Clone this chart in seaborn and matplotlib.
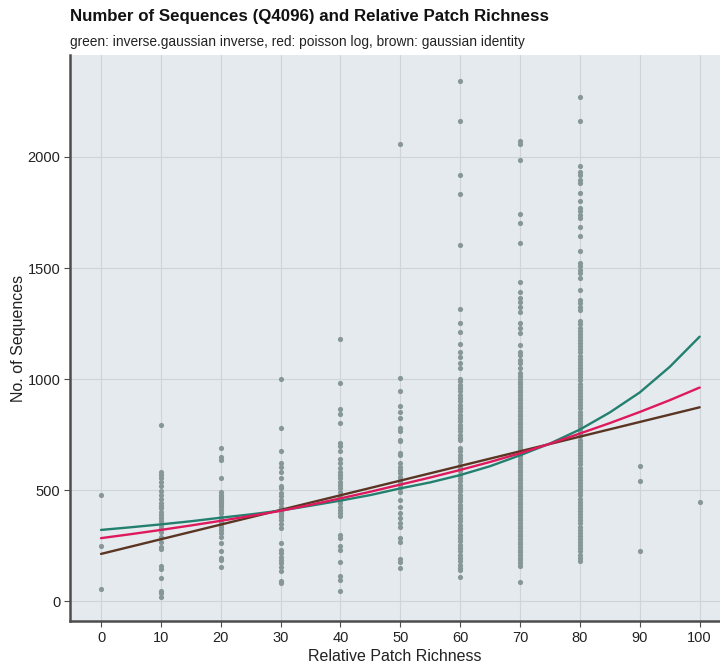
import matplotlib
matplotlib.use("Agg")
import matplotlib.pyplot as plt
import seaborn as sns
import pandas as pd

# ---------------- data ----------------
col_0 = [478, 250, 55]
col_10 = [792, 580, 568, 553, 538, 520, 496, 478, 460, 441, 430, 418, 403, 390, 373,
          360, 343, 330, 313, 291, 268, 246, 234, 160, 145, 106, 48, 36, 21]
col_20 = [688, 651, 636, 556, 491, 478, 471, 463, 456, 448, 441, 433, 426, 411, 396,
          381, 370, 358, 346, 336, 321, 306, 291, 261, 228, 194, 186, 156]
col_30 = [999, 779, 677, 621, 603, 583, 556, 519, 509, 486, 475, 456, 441, 426, 418,
          411, 403, 396, 388, 381, 366, 347, 329, 264, 231, 216, 201, 186, 171, 156,
          138, 93, 84]
col_40 = [1180, 981, 864, 843, 804, 714, 699, 678, 639, 621, 599, 583, 568, 553, 538,
          524, 509, 491, 471, 456, 441, 426, 411, 396, 384, 299, 284, 249, 231, 178,
          114, 96, 46]
col_50 = [2057, 1004, 947, 881, 851, 824, 782, 767, 726, 722, 669, 659, 621, 606, 591,
          576, 561, 546, 535, 524, 509, 493, 456, 426, 399, 374, 354, 336, 284, 268,
          189, 178, 149]
col_60 = [2344, 2160, 1920, 1835, 1605, 1314, 1251, 1214, 1158, 1124, 1101, 1074, 1052,
          1000, 990, 975, 960, 945, 930, 915, 900, 885, 870, 855, 840, 825, 810, 795,
          780, 765, 750, 735, 725, 690, 675, 660, 645, 630, 615, 600, 585, 570, 555,
          540, 525, 510, 495, 480, 465, 450, 435, 420, 405, 390, 375, 360, 345, 330,
          315, 300, 285, 270, 255, 240, 225, 210, 195, 180, 165, 150, 141, 111]
col_70 = [2072, 2060, 1986, 1743, 1702, 1612, 1439, 1394, 1364, 1349, 1326, 1304, 1251,
          1229, 1206, 1154, 1124, 1109, 1086, 1071, 1049, 1027,
          1012, 1000, 988, 976, 964, 952, 940, 928, 916, 904, 892, 880, 868, 856, 844,
          832, 820, 808, 796, 784, 772, 760, 748, 736, 724, 712, 700, 688, 676, 664,
          652, 640, 628, 616, 604, 592, 580, 568, 556, 544, 532, 520, 508, 496, 484,
          472, 460, 448, 436, 424, 412, 400, 388, 376, 364, 352, 340, 328, 316, 304,
          292, 280, 268, 256, 244, 232, 220, 208, 196, 184, 172, 160, 86]
col_80 = [2269, 2162, 1960, 1934, 1919, 1897, 1882, 1837, 1803, 1770, 1755, 1740, 1726,
          1686, 1645, 1578, 1523, 1508, 1493, 1478, 1455, 1401, 1356, 1341, 1326, 1311,
          1260, 1246, 1232, 1218, 1204, 1190, 1176, 1162, 1148, 1134, 1120, 1106, 1092,
          1078, 1064, 1050, 1036, 1022, 1008, 994, 980, 966, 952, 938, 924, 910, 896,
          882, 868, 854, 840, 826, 812, 798, 784, 770, 756, 742, 728, 714, 700, 686,
          672, 658, 644, 630, 616, 602, 588, 574, 560, 546, 532, 518, 504, 490, 476,
          462, 448, 434, 420, 406, 392, 378, 364, 350, 336, 322, 308, 294, 280, 266,
          252, 238, 224, 210, 196, 182]
col_90 = [609, 541, 228]
col_100 = [446]

richness_levels = [0, 10, 20, 30, 40, 50, 60, 70, 80, 90, 100]
columns = [col_0, col_10, col_20, col_30, col_40, col_50, col_60, col_70, col_80,
           col_90, col_100]

# fitted curves every 5 units of richness
fit_x = [0, 5, 10, 15, 20, 25, 30, 35, 40, 45, 50, 55, 60, 65, 70, 75, 80, 85, 90, 95, 100]
fit_inverse_gaussian = [321, 333, 346, 360, 376, 391, 408, 430, 453, 478, 508, 535, 568,
                        608, 657, 710, 773, 850, 940, 1055, 1191]
fit_poisson = [284, 302, 321, 341, 362, 384, 407, 434, 463, 493, 525, 557, 591, 627, 666,
               709, 755, 802, 852, 905, 962]
fit_gaussian = [213, 246, 279, 312, 345, 378, 411, 444, 477, 510, 543, 576, 609, 642, 675,
                708, 741, 774, 807, 840, 873]

x_ticks = [0, 10, 20, 30, 40, 50, 60, 70, 80, 90, 100]
y_ticks = [0, 500, 1000, 1500, 2000]

# ---------------- build tables ----------------
pts = pd.DataFrame({
    "richness": [lvl for lvl, vals in zip(richness_levels, columns) for _ in vals],
    "sequences": [v for vals in columns for v in vals],
})
fits = pd.DataFrame({
    "richness": fit_x * 3,
    "sequences": fit_gaussian + fit_inverse_gaussian + fit_poisson,
    "model": ["gaussian"] * len(fit_x) + ["invgauss"] * len(fit_x) + ["poisson"] * len(fit_x),
})

# ---------------- plot ----------------
sns.set_style("white")
plt.rcParams["font.family"] = ["Liberation Sans", "DejaVu Sans"]

fig = plt.figure(figsize=(7.2, 6.66), dpi=100)
ax = fig.add_axes([70 / 720, 45 / 666, 650 / 720, 566 / 666])
ax.set_facecolor("#e5eaef")

sns.scatterplot(data=pts, x="richness", y="sequences", ax=ax, color="#879797",
                s=14, linewidth=0, zorder=3)
palette = {"gaussian": "#5a3522", "invgauss": "#23806e", "poisson": "#de1a5c"}
sns.lineplot(data=fits, x="richness", y="sequences", hue="model", palette=palette,
             hue_order=["gaussian", "invgauss", "poisson"], ax=ax, linewidth=1.7,
             legend=False, zorder=4, sort=True)

ax.set_xlim(-5.18, 103.4)
ax.set_ylim(-89, 2459)
ax.set_xticks(x_ticks)
ax.set_yticks(y_ticks)
ax.grid(True, color="#cfd4d9", linewidth=0.8, zorder=0)
ax.set_axisbelow(True)

for side in ["top", "right"]:
    ax.spines[side].set_visible(False)
for side in ["left", "bottom"]:
    ax.spines[side].set_color("#4d4d4d")
    ax.spines[side].set_linewidth(1.8)

ax.tick_params(axis="both", which="major", length=4, width=0.8, color="#4d4d4d",
               labelsize=10.5, labelcolor="#222222", pad=3,
               bottom=True, left=True)

ax.set_xlabel("Relative Patch Richness", fontsize=11.5, color="#222222", labelpad=3)
ax.set_ylabel("No. of Sequences", fontsize=11.5, color="#222222", labelpad=1)

fig.text(70 / 720, 1 - 17 / 666, "Number of Sequences (Q4096) and Relative Patch Richness",
         fontsize=12.2, fontweight="bold", ha="left", va="center", color="#111111")
fig.text(70 / 720, 1 - 42 / 666,
         "green: inverse.gaussian inverse, red: poisson log, brown: gaussian identity",
         fontsize=9.9, ha="left", va="center", color="#222222")

fig.savefig("out.png", dpi=100)
